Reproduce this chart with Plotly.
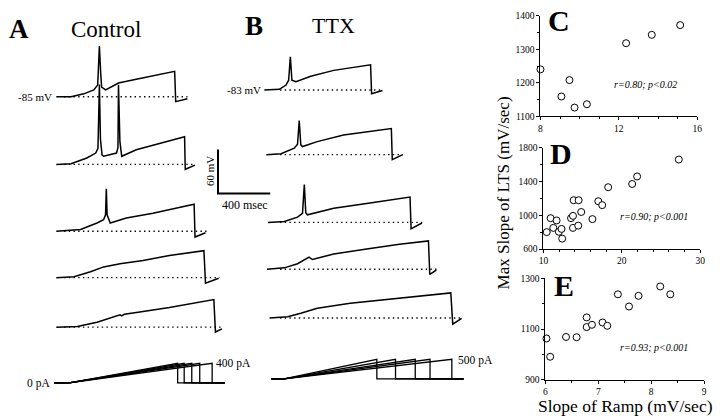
import plotly.graph_objects as go

# ---------------- DATA ----------------
# Panel A (Control): membrane potential traces, time (ms) / voltage (mV)
A1_t = [0, 113, 211, 287, 317, 330, 340, 347, 378, 476, 612, 763, 906, 914, 1004]
A1_v = [-85, -85, -81, -75.7, -69, -15.7, -53, -71.7, -75.7, -66.3, -61, -55.7, -50.3, -91.7, -87.7]
A2_t = [0, 113, 234, 302, 319, 330, 338, 350, 362, 461, 472, 476, 487, 501, 612, 793, 982, 987, 1062]
A2_v = [-85, -84.2, -76.2, -69.5, -62.9, 24, -50, -72, -73.9, -69.5, -62, 23.8, -54, -73.9, -65, -56.2, -47.3, -91.7, -86]
A3_t = [0, 186, 312, 362, 377, 383, 389, 413, 536, 740, 914, 1055, 1062, 1142]
A3_v = [-85, -82.7, -73.8, -69.4, -62.7, -27, -62.7, -73.8, -67.1, -60.5, -53.8, -48.1, -93, -87.1]
A4_t = [0, 136, 262, 362, 488, 664, 866, 1130, 1142, 1243]
A4_v = [-85, -83.7, -77, -70.3, -65.9, -61.5, -54.8, -48.2, -92.6, -85.9]
A5_t = [0, 161, 312, 438, 488, 501, 520, 614, 866, 1206, 1218, 1268]
A5_v = [-85, -84.1, -78.3, -71.7, -68.1, -69.5, -67.5, -65, -58.3, -47.3, -91.7, -87.3]
A_rest = -85
A_base_start = [60, 60, 60, 60, 60]
A_base_end = [1004, 1062, 1150, 1250, 1275]

# Panel A current ramps (pA)
A_stim_t0, A_stim_start, A_stim_t1 = -15, 98, 1291
A_stim_end = [929, 979, 1037, 1098, 1193]
A_stim_amp = 400

# Panel B (TTX)
B1_t = [0, 115, 166, 186, 199, 211, 242, 355, 531, 682, 813, 821, 904]
B1_v = [-83, -82.1, -76.3, -69.7, -37.7, -69.7, -71.8, -64.3, -56.3, -51.8, -48.7, -88.3, -83.8]
B2_t = [15, 128, 229, 254, 267, 279, 292, 405, 606, 783, 972, 979, 1059]
B2_v = [-83, -81.7, -74.1, -68.7, -36.3, -69.6, -71.9, -65.2, -56.3, -51.9, -47.4, -89.7, -83]
B3_t = [28, 153, 254, 292, 306, 317, 330, 531, 783, 1115, 1123, 1206]
B3_v = [-83, -81.7, -75.8, -70.5, -31.4, -69.7, -72.7, -63.8, -57.1, -48.3, -91.8, -83.8]
B4_t = [20, 153, 254, 317, 342, 368, 531, 783, 1034, 1256, 1266, 1316]
B4_v = [-83, -81.1, -75.4, -69.7, -66.5, -69.7, -62.1, -55.4, -48.8, -44.3, -90.1, -84.3]
B5_t = [40, 179, 279, 405, 657, 1034, 1336, 1427, 1442, 1510]
B5_v = [-83, -81.1, -76.3, -69.6, -62.9, -56.3, -51, -48.7, -91.4, -83.4]
B_rest = -83
B_base_start = [120, 120, 120, 120, 120]
B_base_end = [904, 1059, 1208, 1321, 1510]

B_stim_t0, B_stim_start, B_stim_t1 = 53, 151, 1525
B_stim_end = [861, 1004, 1155, 1268, 1435]
B_stim_amp = 500

# Scale bar
SCALE_MS = 400
SCALE_MV = 60

# Panels C, D, E: slope of ramp (mV/sec) vs max slope of LTS (mV/sec)
C_x = [8.0, 9.07, 9.48, 9.74, 10.37, 12.37, 13.68, 15.13]
C_y = [1240, 1159, 1208, 1126, 1136, 1318, 1343, 1372]
D_x = [10.42, 10.92, 11.26, 11.68, 11.97, 12.31, 12.39, 13.52, 13.77, 13.77, 13.86,
       14.49, 14.44, 14.82, 16.25, 17.0, 17.5, 18.26, 21.32, 21.95, 27.27]
D_y = [800, 965, 850, 938, 804, 838, 723, 965, 992, 850, 1177,
       1177, 877, 1038, 954, 1165, 1119, 1331, 1369, 1458, 1658]
E_x = [6.02, 6.09, 6.39, 6.59, 6.78, 6.78, 6.88, 7.08, 7.17, 7.37, 7.58, 7.76, 8.17, 8.36]
E_y = [1063, 991, 1069, 1068, 1146, 1108, 1117, 1126, 1113, 1237, 1189, 1231, 1268, 1237]

C_ticks_x, C_ticks_y = [8, 12, 16], [1100, 1200, 1300, 1400]
D_ticks_x, D_ticks_y = [10, 20, 30], [600, 1000, 1400, 1800]
E_ticks_x, E_ticks_y = [6, 7, 8, 9], [900, 1100, 1300]

# ---------------- LAYOUT HELPERS ----------------
W, H = 720, 420
SX = 53 / 400.0   # px per ms
SY = 45 / 60.0    # px per mV
SERIF = "Liberation Serif"
axes = {}

def xkey(n):
    return "xaxis" if n == 1 else f"xaxis{n}"

def ykey(n):
    return "yaxis" if n == 1 else f"yaxis{n}"

def time_axis(n, px_origin, tmin, tmax):
    p0 = px_origin + tmin * SX
    p1 = px_origin + tmax * SX
    axes[xkey(n)] = dict(domain=[p0 / W, p1 / W], range=[tmin, tmax], visible=False)

def value_axis(n, xanchor, base_px, base_val, scale, up_px, down_px):
    top = base_px - up_px
    bottom = base_px + down_px
    axes[ykey(n)] = dict(domain=[(H - bottom) / H, (H - top) / H],
                         range=[base_val - down_px / scale, base_val + up_px / scale],
                         visible=False, anchor=xanchor)

fig = go.Figure()
LINE = dict(color="black", width=1.5)
DOT = dict(color="black", width=1.4, dash="1.4px,3.3px")
STIM = dict(color="black", width=1.3)

# Panel A
time_axis(1, 52, -250, 1300)
A_rows = [(A1_t, A1_v), (A2_t, A2_v), (A3_t, A3_v), (A4_t, A4_v), (A5_t, A5_v)]
A_base_px = [94, 163.3, 231.7, 279.3, 330]
for i, (t, v) in enumerate(A_rows):
    n = i + 1
    value_axis(n, "x", A_base_px[i], A_rest, SY, 92, 14)
    yref = "y" if n == 1 else f"y{n}"
    fig.add_trace(go.Scatter(x=[A_base_start[i], A_base_end[i]], y=[A_rest, A_rest],
                             mode="lines", line=DOT, xaxis="x", yaxis=yref, hoverinfo="skip"))
    fig.add_trace(go.Scatter(x=t, y=v, mode="lines", line=LINE, xaxis="x", yaxis=yref,
                             cliponaxis=False))
value_axis(6, "x", 387, 0, 0.05, 32, 8)
for te in A_stim_end:
    fig.add_trace(go.Scatter(x=[A_stim_t0, A_stim_start, te, te, A_stim_t1],
                             y=[0, 0, A_stim_amp, 0, 0], mode="lines",
                             line=STIM, xaxis="x", yaxis="y6"))

# Panel B
time_axis(2, 263, -200, 1600)
B_rows = [(B1_t, B1_v), (B2_t, B2_v), (B3_t, B3_v), (B4_t, B4_v), (B5_t, B5_v)]
B_base_px = [87, 153.3, 222.7, 270.7, 320.7]
for i, (t, v) in enumerate(B_rows):
    n = i + 7
    value_axis(n, "x2", B_base_px[i], B_rest, SY, 80, 14)
    fig.add_trace(go.Scatter(x=[B_base_start[i], B_base_end[i]], y=[B_rest, B_rest],
                             mode="lines", line=DOT, xaxis="x2", yaxis=f"y{n}", hoverinfo="skip"))
    fig.add_trace(go.Scatter(x=t, y=v, mode="lines", line=LINE, xaxis="x2", yaxis=f"y{n}",
                             cliponaxis=False))
value_axis(12, "x2", 383, 0, 0.04, 32, 8)
for te in B_stim_end:
    fig.add_trace(go.Scatter(x=[B_stim_t0, B_stim_start, te, te, B_stim_t1],
                             y=[0, 0, B_stim_amp, 0, 0], mode="lines",
                             line=STIM, xaxis="x2", yaxis="y12"))

# Scale bar
time_axis(3, 216, -50, 450)
value_axis(13, "x3", 193, 0, SY, 55, 7)
fig.add_trace(go.Scatter(x=[0, 0, SCALE_MS], y=[SCALE_MV, 0, 0], mode="lines",
                         line=dict(color="black", width=2), xaxis="x3", yaxis="y13"))

# Scatter panels
def scatter_axes(nx, ny, px0, px1, xr, top, bottom, yr, xt, yt, xminor, yminor):
    common = dict(showline=True, linecolor="black", linewidth=1, ticks="outside", ticklen=3,
                  tickcolor="black", tickwidth=1, showgrid=False, zeroline=False,
                  tickfont=dict(family=SERIF, size=9.5, color="black"), fixedrange=True)
    axes[xkey(nx)] = dict(domain=[px0 / W, px1 / W], range=xr, tickvals=xt, anchor=f"y{ny}",
                          minor=dict(ticks="outside", ticklen=2, dtick=xminor, tickcolor="black",
                                     showgrid=False),
                          **common)
    axes[ykey(ny)] = dict(domain=[(H - bottom) / H, (H - top) / H], range=yr, tickvals=yt,
                          anchor=f"x{nx}",
                          minor=dict(ticks="outside", ticklen=2, dtick=yminor, tickcolor="black",
                                     showgrid=False),
                          **common)

scatter_axes(4, 14, 543, 702, [8, 16], 11, 114, [1100, 1400], C_ticks_x, C_ticks_y, 1, 50)
scatter_axes(5, 15, 546, 705, [10, 30], 146, 250, [600, 1800], D_ticks_x, D_ticks_y, 2, 200)
scatter_axes(6, 16, 548, 709, [6, 9], 280, 384, [900, 1300], E_ticks_x, E_ticks_y, 0.5, 100)

MK = dict(symbol="circle", size=7, color="white", line=dict(color="black", width=1))
for (xs, ys, xa, ya) in [(C_x, C_y, "x4", "y14"), (D_x, D_y, "x5", "y15"), (E_x, E_y, "x6", "y16")]:
    fig.add_trace(go.Scatter(x=xs, y=ys, mode="markers", marker=MK, xaxis=xa, yaxis=ya,
                             cliponaxis=False))

# ---------------- TEXT ----------------
def ann(px, py, text, size, bold=False, italic=False, xanchor="center", angle=0):
    s = text
    if bold:
        s = f"<b>{s}</b>"
    if italic:
        s = f"<i>{s}</i>"
    return dict(x=px / W, y=1 - py / H, xref="paper", yref="paper", text=s, showarrow=False,
                xanchor=xanchor, yanchor="middle", textangle=angle,
                font=dict(family=SERIF, size=size, color="black"))

annotations = [
    ann(14, 25, "A", 27, bold=True),
    ann(102, 25, "Control", 23),
    ann(253, 21, "B", 27, bold=True),
    ann(333, 21, "TTX", 22),
    ann(50, 94, "-85 mV", 11, xanchor="right"),
    ann(262, 87, "-83 mV", 11, xanchor="right"),
    ann(48, 388, "0 pA", 11.5, xanchor="right"),
    ann(212, 367, "400 pA", 11.5, xanchor="left"),
    ann(457, 364, "500 pA", 11.5, xanchor="left"),
    ann(208, 170, "60 mV", 11, angle=-90),
    ann(243, 205, "400 msec", 12),
    ann(562, 16, "C", 30, bold=True),
    ann(564, 152, "D", 30, bold=True),
    ann(567, 287, "E", 30, bold=True),
    ann(650, 81, "r=0.80; p<0.02", 10, italic=True),
    ann(658, 217, "r=0.90; p<0.001", 10, italic=True),
    ann(658, 351, "r=0.93; p<0.001", 10, italic=True),
    ann(505, 192, "Max Slope of LTS (mV/sec)", 17, angle=-90),
    ann(629, 410.5, "Slope of Ramp (mV/sec)", 17.5),
]

fig.update_layout(width=W, height=H, autosize=False, margin=dict(l=0, r=0, t=0, b=0),
                  paper_bgcolor="white", plot_bgcolor="rgba(0,0,0,0)", showlegend=False,
                  annotations=annotations, **axes)
fig.write_html("out.html", config=dict(displayModeBar=False),
               post_script="document.body.style.margin='0px';document.body.style.overflow='hidden';")
